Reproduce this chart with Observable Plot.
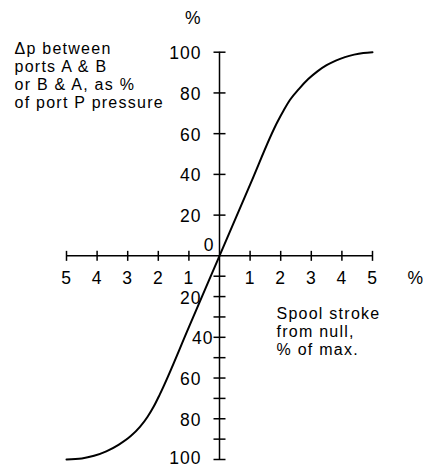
<!DOCTYPE html>
<html><head><meta charset="utf-8">
<script src="https://cdn.jsdelivr.net/npm/d3@7"></script>
<script src="https://cdn.jsdelivr.net/npm/@observablehq/plot@0.6"></script>
<style>
html,body{margin:0;padding:0;background:#fff;}
svg text{letter-spacing:1px;}
svg .title text, svg text.title{letter-spacing:1.25px;}
</style></head><body><div id="chart"></div>
<script>
// Spool stroke from null (% of max) vs Δp (% of port P pressure)
const strokeX = [-5, -4.5, -4.1, -3.7, -3.3, -2.9, -2.6, -2.35, -2.15, -1.95, -1, 0, 1, 1.9, 2.1, 2.3, 2.6, 2.9, 3.2, 3.5, 3.8, 4.1, 4.4, 4.7, 5];
const deltaP  = [-100, -99.5, -98.2, -96, -92.8, -88.5, -84, -79, -74, -68, -35, 0, 35, 66, 71.5, 76.5, 82, 86.8, 90.6, 93.6, 95.9, 97.6, 98.8, 99.6, 100];

const xTickValues = [-5, -4, -3, -2, -1, 1, 2, 3, 4, 5];
const yTickValues = [100, 80, 60, 40, 20, -10, -20, -30, -40, -50, -60, -70, -80, -90, -100];
const yLabelValues = [100, 80, 60, 40, 20, -20, -40, -60, -80, -100];
const zeroLabel = "0";
const unitLabel = "%";
const yAxisTitle = "Δp between\nports A & B\nor B & A, as %\nof port P pressure";
const xAxisTitle = "Spool stroke\nfrom null,\n% of max.";

const vtick = {draw(c, size) { const r = Math.sqrt(size / Math.PI); c.moveTo(0, -r); c.lineTo(0, r); }};
const htick = {draw(c, size) { const r = Math.sqrt(size / Math.PI); c.moveTo(-r, 0); c.lineTo(r, 0); }};

const curve = strokeX.map((x, i) => ({x, y: deltaP[i]}));
const font = "'Liberation Sans', Arial, Helvetica, sans-serif";
const fs = 17.5;

const chart = Plot.plot({
  width: 423,
  height: 468,
  margin: 0,
  x: {domain: [-5, 5], range: [66, 372], axis: null},
  y: {domain: [-100, 100], range: [459, 51.7], axis: null},
  style: {fontFamily: font, background: "white", color: "black"},
  marks: [
    Plot.ruleY([0], {x1: -5, x2: 5, stroke: "black", strokeWidth: 1.5}),
    Plot.ruleX([0], {y1: -100, y2: 100, stroke: "black", strokeWidth: 1.5}),
    Plot.dot(xTickValues, {x: d => d, y: 0, symbol: vtick, r: 5, fill: "none", stroke: "black", strokeWidth: 1.5}),
    Plot.dot(yTickValues, {x: 0, y: d => d, symbol: htick, r: 6, fill: "none", stroke: "black", strokeWidth: 1.5}),
    Plot.line(curve, {x: "x", y: "y", curve: "monotone-x", stroke: "black", strokeWidth: 2}),
    Plot.text(xTickValues, {x: d => d, y: 0, text: d => String(Math.abs(d)), dy: 23, fontSize: fs, fill: "black"}),
    Plot.text(yLabelValues.filter(d => d !== -40 && d !== -100), {x: 0, y: d => d, text: d => String(Math.abs(d)), textAnchor: "end", dx: -18, dy: 1.5, fontSize: fs, fill: "black"}),
    Plot.text(yLabelValues.filter(d => d === -100), {x: 0, y: d => d, text: d => String(Math.abs(d)), textAnchor: "end", dx: -18, dy: -1.5, fontSize: fs, fill: "black"}),
    Plot.text(yLabelValues.filter(d => d === -40), {x: 0, y: d => d, text: d => String(Math.abs(d)), textAnchor: "end", dx: -6, dy: 1, fontSize: fs, fill: "black"}),
    Plot.text([zeroLabel], {x: 0, y: 0, text: d => d, textAnchor: "end", dx: -5, dy: -10, fontSize: fs, fill: "black"}),
    Plot.text([unitLabel], {x: 0, y: 100, text: d => d, textAnchor: "end", dx: -18, dy: -34, fontSize: fs, fill: "black"}),
    Plot.text([unitLabel], {x: 5, y: 0, text: d => d, textAnchor: "start", dx: 35, dy: 23, fontSize: fs, fill: "black"}),
    Plot.text([yAxisTitle], {frameAnchor: "top-left", text: d => d, textAnchor: "start", lineAnchor: "top", lineHeight: 1.125, dx: 14, dy: 41.2, fontSize: 16, fill: "black", className: "title"}),
    Plot.text([xAxisTitle], {frameAnchor: "top-left", text: d => d, textAnchor: "start", lineAnchor: "top", lineHeight: 1.125, dx: 276, dy: 306.2, fontSize: 16, fill: "black", className: "title"})
  ]
});
document.getElementById("chart").appendChild(chart);
</script>
</body></html>
